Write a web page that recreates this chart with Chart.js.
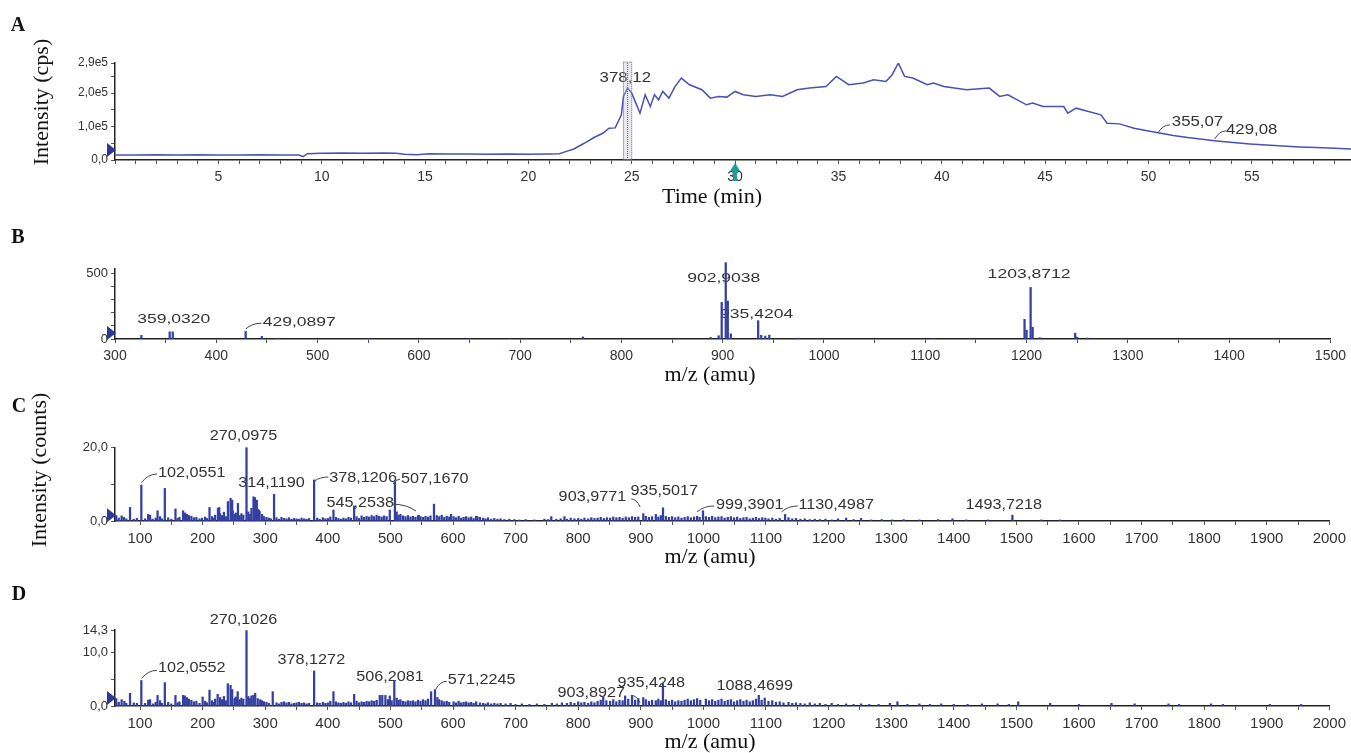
<!DOCTYPE html>
<html>
<head>
<meta charset="utf-8">
<script src="https://cdn.jsdelivr.net/npm/chart.js@4.4.1/dist/chart.umd.min.js"></script>
<style>
  body { margin: 0; background: #fff; width: 1351px; height: 753px; overflow: hidden; position: relative; }
  canvas { position: absolute; left: 0; }
</style>
</head>
<body>
<canvas id="chartA" width="1351" height="215" style="top:0px;width:1351px;height:215px"></canvas>
<canvas id="chartB" width="1351" height="170" style="top:215px;width:1351px;height:170px"></canvas>
<canvas id="chartC" width="1351" height="205" style="top:370px;width:1351px;height:205px"></canvas>
<canvas id="chartD" width="1351" height="178" style="top:575px;width:1351px;height:178px"></canvas>
<script>
// ---- Panel A: total ion chromatogram (time in min, intensity in cps)
var ticTime = [0, 1, 2, 3, 4, 5, 6, 7, 8, 8.9, 9.1, 9.3, 10, 11, 12, 13, 13.6, 14, 14.6, 15.2, 16, 17, 18, 19, 20, 21, 21.5,
  21.8, 22.2, 22.7, 23.2, 23.6, 23.9, 24.2, 24.5, 24.6, 24.8, 25.0, 25.2, 25.4, 25.65, 25.9, 26.1, 26.3, 26.5, 26.8, 27.1,
  27.4, 27.8, 28.4, 28.8, 29.2, 29.6, 30.0, 30.4, 31.0, 31.7, 32.3, 33.0, 33.6, 34.4, 34.9, 35.5, 36.2, 36.7, 37.3, 37.6,
  37.9, 38.2, 38.6, 39.3, 39.6, 40.1, 41.2, 42.3, 42.8, 43.2, 44.1, 44.4, 44.9, 45.9, 46.1, 46.5, 47.7, 48.0, 48.6, 49.3,
  50.0, 50.6, 51.2, 51.9, 52.6, 53.3, 54.1, 54.9, 55.7, 56.5, 57.3, 58.1, 59.0, 59.8];
var ticCps = [15000, 15000, 16000, 15000, 16000, 15000, 15000, 16000, 15000, 15000, 10000, 19000, 20000, 21000, 20000, 21000, 20000, 17000, 16000, 19000,
  18000, 18000, 17000, 18000, 17000, 18000, 19000,
  25000, 33000, 50000, 68000, 80000, 95000, 96000, 135000, 190000, 215000, 200000, 170000, 140000, 195000, 160000, 195000, 180000, 205000, 185000, 220000,
  245000, 225000, 210000, 185000, 190000, 188000, 205000, 195000, 190000, 195000, 190000, 210000, 215000, 220000, 250000, 225000, 230000, 240000, 235000, 255000,
  290000, 250000, 245000, 225000, 230000, 220000, 210000, 215000, 190000, 195000, 165000, 170000, 160000, 160000, 140000, 155000, 135000, 110000, 108000, 95000,
  87000, 80000, 73000, 67000, 62000, 57000, 52000, 48000, 45000, 42000, 39000, 37000, 35000, 33000];
var aXLabelled = [5, 10, 15, 20, 25, 30, 35, 40, 45, 50, 55];
var aYTicks = [0, 50000, 100000, 150000, 200000, 250000, 290000];
var aYLabels = { 0: '0,0', 100000: '1,0e5', 200000: '2,0e5', 290000: '2,9e5' };

// ---- Panel B: MS scan at 24.8 min (m/z, counts)
var specBMz  = [326, 354, 357, 429, 445, 461, 550, 650, 690, 762, 888, 896, 899, 903, 905, 908, 935, 938, 942, 946, 975, 1108, 1198, 1200, 1204, 1206, 1213, 1248, 1250, 1260];
var specBInt = [28, 55, 55, 58, 20, 6, 5, 5, 4, 16, 12, 25, 280, 584, 290, 40, 140, 28, 22, 30, 6, 5, 150, 68, 394, 90, 10, 45, 14, 8];
var bXLabelled = [300, 400, 500, 600, 700, 800, 900, 1000, 1100, 1200, 1300, 1400, 1500];
var bYTicks = [0, 100, 200, 300, 400, 500];
var bYLabels = { 0: '0', 500: '500' };

// ---- Panel C: MS/MS spectrum (m/z, counts)
var specCPeakMz  = [70.6, 84, 102.06, 113, 128, 139.6, 156.6, 168.8, 211, 224.5, 226.5, 240.4, 244.6, 247.2, 256.4, 270.1, 281.3, 283.5, 286.5, 290,
  314.1, 378.1, 409, 442, 499, 507.2, 545.3, 569.6, 597, 639, 757, 778, 903.98, 924, 935.5, 999.4, 1130.5, 1493.7];
var specCPeakInt = [1.4, 3.7, 9.8, 1.8, 2.8, 8.9, 3.3, 2.8, 3.7, 3.5, 3.7, 5.3, 6.2, 5.7, 4.8, 20.0, 6.6, 6.4, 5.7, 3.0,
  7.3, 11.2, 3.0, 4.1, 3.0, 10.7, 1.6, 4.6, 1.8, 1.2, 1.2, 1.2, 2.0, 1.8, 3.6, 2.8, 1.8, 1.6];
var specCNoiseMz = [62, 66, 74, 78, 90, 95, 108, 116, 120, 125, 132, 135, 145, 150, 160, 163, 172, 175, 178, 182, 186, 190, 195, 199, 204, 207, 215, 218,
  220, 228, 231, 234, 237, 248, 251, 253, 259, 262, 265, 273, 276, 278, 285, 288, 291, 295, 298, 302, 306, 309, 318, 322, 326, 330, 334, 338, 342,
  346, 350, 354, 358, 362, 366, 370, 383, 387, 392, 396, 400, 404, 413, 417, 421, 425, 429, 433, 437, 446, 450, 454, 458, 462, 466, 470, 474, 478,
  482, 486, 490, 494, 510, 513, 516, 520, 524, 528, 532, 536, 540, 544, 548, 552, 556, 560, 564, 574, 578, 582, 586, 590, 594, 601, 605, 609, 613,
  617, 621, 625, 629, 633, 637, 643, 648, 652, 656, 661, 666, 671, 676, 682, 690, 698, 706, 716, 730, 746, 752, 765, 772, 782, 788, 794, 800, 805,
  810, 816, 821, 826, 831, 836, 841, 846, 851, 856, 861, 866, 871, 876, 881, 886, 891, 896, 908, 913, 918, 928, 932, 940, 945, 950, 955, 960, 965,
  970, 975, 980, 985, 990, 994, 1004, 1009, 1014, 1019, 1024, 1029, 1034, 1039, 1044, 1049, 1054, 1059, 1064, 1069, 1074, 1079, 1084, 1089, 1094,
  1099, 1104, 1110, 1116, 1122, 1136, 1142, 1148, 1155, 1162, 1170, 1178, 1186, 1195, 1205, 1215, 1228, 1240, 1252, 1268, 1285, 1302, 1320, 1345,
  1375, 1398, 1420, 1455, 1540, 1570];
var specCNoiseInt = [1.5, 0.8, 1.0, 0.6, 0.5, 0.7, 0.6, 1.6, 0.5, 0.8, 1.2, 0.6, 0.9, 0.5, 0.7, 1.0, 2.2, 1.8, 1.5, 1.3, 0.9, 1.0, 0.6, 0.8, 1.1, 0.7, 1.2, 0.8,
  1.6, 2.0, 1.5, 2.4, 1.2, 2.8, 1.8, 2.2, 1.5, 2.0, 1.6, 2.5, 1.8, 3.5, 4.5, 3.2, 2.6, 1.8, 1.2, 1.0, 0.8, 0.6, 0.9, 0.5, 1.0, 0.7, 0.6, 0.9, 0.5,
  0.7, 0.6, 0.5, 0.8, 0.6, 0.5, 0.7, 0.8, 0.5, 0.9, 0.6, 0.7, 1.1, 1.0, 0.7, 0.5, 0.8, 0.6, 1.0, 0.8, 1.2, 0.7, 1.4, 1.0, 1.3, 1.1, 1.5, 1.2, 1.6,
  1.3, 1.1, 1.4, 1.2, 2.5, 1.6, 1.8, 1.4, 1.2, 1.5, 1.1, 1.3, 1.0, 1.4, 1.2, 1.0, 1.3, 1.1, 1.4, 1.5, 1.2, 1.6, 1.0, 1.3, 1.1, 1.2, 0.9, 1.3, 0.8,
  1.0, 1.2, 0.9, 1.1, 0.7, 1.3, 1.0, 0.8, 0.6, 0.9, 0.5, 0.7, 0.5, 0.6, 0.4, 0.5, 0.4, 0.3, 0.4, 0.3, 0.5, 0.4, 0.5, 0.6, 0.5, 0.8, 0.6, 0.7, 0.5,
  0.8, 0.6, 0.9, 0.7, 0.8, 1.0, 0.7, 0.9, 0.8, 1.1, 0.9, 1.0, 0.8, 1.1, 0.9, 1.2, 1.0, 1.1, 1.3, 1.0, 1.2, 1.1, 1.5, 1.3, 1.0, 1.2, 0.9, 1.1, 0.8,
  1.0, 1.2, 0.9, 1.1, 1.3, 1.0, 1.2, 1.0, 1.3, 0.9, 1.1, 1.2, 0.8, 1.0, 1.2, 0.9, 1.1, 0.7, 0.9, 1.0, 0.6, 0.8, 1.0, 0.7, 0.9,
  0.8, 0.6, 0.8, 0.5, 0.7, 0.9, 0.6, 0.7, 0.5, 0.6, 0.4, 0.5, 0.4, 0.5, 0.3, 0.6, 0.8, 0.4, 0.7, 0.3, 0.4, 0.3, 0.4, 0.3,
  0.4, 0.6, 0.3, 0.3, 0.3, 0.3];

// ---- Panel D: MS/MS spectrum (m/z, counts)
var specDPeakMz  = [70.6, 84, 102.06, 113, 128, 139.6, 156.6, 168.8, 171.5, 200, 211, 224, 240.2, 244.6, 247.2, 256, 270.1, 281, 284, 288,
  312, 378.1, 409, 442, 483, 487, 492, 499, 506.2, 565, 571.2, 840, 875, 886, 903.9, 935.4, 1088.5];
var specDPeakInt = [1.2, 2.4, 4.8, 1.1, 2.0, 4.4, 2.0, 2.0, 1.9, 1.7, 3.0, 2.2, 4.2, 3.9, 3.1, 2.7, 14.2, 2.0, 2.4, 1.4,
  2.7, 6.6, 2.7, 2.2, 2.0, 2.0, 2.0, 1.9, 4.8, 2.7, 3.1, 1.7, 1.9, 2.0, 1.6, 4.2, 2.0];
var specDNoiseMz = [62, 66, 75, 78, 90, 95, 108, 116, 121, 125, 132, 135, 145, 150, 160, 163, 175, 178, 182, 186, 190, 195, 204, 207, 215, 218, 220,
  228, 231, 234, 237, 251, 253, 259, 262, 265, 273, 276, 278, 292, 295, 298, 302, 306, 318, 322, 326, 330, 334, 338, 342, 346, 350, 354, 358, 362,
  366, 370, 383, 387, 392, 396, 400, 404, 413, 417, 421, 425, 429, 433, 437, 446, 450, 454, 458, 462, 466, 470, 474, 478, 496, 502, 510, 513, 516,
  520, 524, 528, 532, 536, 540, 544, 548, 552, 556, 560, 575, 578, 582, 586, 590, 594, 601, 605, 609, 613, 617, 621, 625, 629, 633, 637, 643, 648,
  652, 656, 661, 666, 671, 676, 684, 692, 700, 710, 722, 734, 746, 758, 766, 774, 782, 788, 794, 800, 805, 810, 816, 821, 826, 831, 836, 845, 851,
  856, 861, 866, 871, 880, 891, 896, 908, 913, 918, 924, 928, 932, 940, 945, 950, 955, 960, 965, 970, 975, 980, 985, 990, 995, 1004, 1009, 1014,
  1019, 1024, 1029, 1034, 1039, 1044, 1049, 1054, 1059, 1064, 1069, 1074, 1079, 1084, 1093, 1098, 1104, 1110, 1116, 1122, 1128, 1136, 1142, 1148,
  1155, 1162, 1170, 1178, 1186, 1195, 1205, 1215, 1228, 1240, 1252, 1265, 1280, 1298, 1310, 1326, 1345, 1362, 1380, 1400, 1422, 1445, 1470, 1488,
  1503, 1554, 1600, 1652, 1689, 1743, 1760, 1811, 1830, 1905, 1955];
var specDNoiseInt = [1.4, 0.7, 0.9, 0.5, 0.6, 0.5, 0.5, 1.2, 0.4, 0.7, 1.0, 0.5, 0.7, 0.4, 0.6, 0.8, 1.6, 1.3, 1.1, 0.8, 0.9, 0.5, 0.9, 0.6, 1.0, 0.7, 1.3,
  1.6, 1.2, 1.8, 1.0, 1.4, 1.7, 1.2, 1.5, 1.3, 1.8, 1.4, 1.9, 1.2, 1.0, 0.8, 0.7, 0.5, 0.6, 0.4, 0.7, 0.8, 0.6, 0.7, 0.4, 0.5, 0.6, 0.7, 0.5, 0.6,
  0.4, 0.5, 0.6, 0.5, 0.7, 0.5, 0.6, 0.9, 0.8, 0.6, 0.5, 0.7, 0.5, 0.8, 0.6, 0.9, 0.6, 0.8, 0.7, 0.9, 0.8, 1.0, 0.9, 1.1, 1.2, 1.0, 1.5, 1.1, 1.2,
  0.9, 0.8, 1.0, 0.9, 1.0, 0.8, 1.1, 0.9, 1.2, 1.0, 1.3, 1.6, 1.2, 1.0, 0.8, 0.9, 0.7, 0.8, 0.6, 0.9, 0.6, 0.7, 0.8, 0.6, 0.7, 0.5, 0.8, 0.6, 0.5,
  0.4, 0.6, 0.4, 0.5, 0.4, 0.5, 0.4, 0.5, 0.3, 0.4, 0.3, 0.4, 0.3, 0.5, 0.4, 0.6, 0.5, 0.7, 0.5, 0.8, 0.6, 0.7, 0.5, 0.8, 0.6, 0.9, 1.1, 1.0, 0.9,
  1.2, 0.8, 1.1, 1.0, 1.3, 1.1, 1.4, 1.2, 0.9, 1.1, 1.0, 1.3, 1.0, 1.2, 0.9, 1.1, 0.8, 1.0, 0.9, 1.1, 1.3, 1.0, 1.2, 1.4, 1.1, 1.3, 1.0, 1.2,
  0.9, 1.1, 1.3, 0.9, 1.1, 1.2, 0.8, 1.0, 1.2, 0.9, 1.1, 0.8, 1.0, 1.3, 1.1, 1.5, 0.9, 1.0, 0.7, 0.8, 0.6, 0.7, 0.5, 0.6,
  0.5, 0.4, 0.6, 0.4, 0.5, 0.3, 0.5, 0.3, 0.4, 0.3, 0.4, 0.3, 0.3, 0.5, 0.8, 0.3, 0.4, 0.3, 0.4, 0.3, 0.3, 0.4, 0.4, 0.3,
  0.8, 0.5, 0.3, 0.5, 0.4, 0.4, 0.3, 0.4, 0.3, 0.3, 0.3];
var cdXLabelled = [100, 200, 300, 400, 500, 600, 700, 800, 900, 1000, 1100, 1200, 1300, 1400, 1500, 1600, 1700, 1800, 1900, 2000];
var cYTicks = [0, 10, 20];
var cYLabels = { 0: '0,0', 20: '20,0' };
var dYTicks = [0, 5, 10, 14.3];
var dYLabels = { 0: '0,0', 10: '10,0', 14.3: '14,3' };

var SANS = "'Liberation Sans', Arial, sans-serif";
var SERIF = "'Liberation Serif', 'Times New Roman', serif";
var INK = '#3340a2';

function pairs(xs, ys) {
    return xs.map(function (x, i) { return { x: x, y: ys[i] }; });
}

// x ticks: labelled majors plus a minor tick half way between them
function withMinors(majors, step) {
    var out = [];
    majors.forEach(function (v, i) {
        out.push(v);
        if (i < majors.length - 1) out.push(v + step / 2);
    });
    return out;
}

// text, leaders and markers drawn on top of the library's scales
var decor = {
    id: 'decor',
    beforeDatasetsDraw: function (chart, args, o) {
        var ctx = chart.ctx, xs = chart.scales.x, ys = chart.scales.y;
        ctx.save();
        ctx.fillStyle = '#333';
        ctx.textBaseline = 'middle';
        (o.labels || []).forEach(function (l) {
            ctx.save();
            ctx.font = (l.size || 15) + 'px ' + SANS;
            ctx.textAlign = l.align || 'center';
            ctx.translate(xs.getPixelForValue(l.x), ys.getPixelForValue(l.y));
            ctx.scale(o.sx || 1, 1);
            ctx.fillText(l.text, 0, 0);
            ctx.restore();
        });
        ctx.strokeStyle = '#444';
        ctx.lineWidth = 1;
        (o.leaders || []).forEach(function (l) {
            var x1 = xs.getPixelForValue(l[0]), y1 = ys.getPixelForValue(l[1]);
            var x2 = xs.getPixelForValue(l[2]), y2 = ys.getPixelForValue(l[3]);
            ctx.beginPath();
            ctx.moveTo(x1, y1);
            ctx.quadraticCurveTo(x1 + (x2 - x1) * 0.4, y2, x2, y2);
            ctx.stroke();
        });
        // titles and panel letters, page coordinates
        ctx.fillStyle = '#111';
        (o.titles || []).forEach(function (t) {
            ctx.save();
            ctx.font = t.font;
            ctx.textAlign = 'center';
            ctx.translate(t.px, t.py - o.top);
            if (t.rot) ctx.rotate(-Math.PI / 2);
            ctx.fillText(t.text, 0, 0);
            ctx.restore();
        });
        ctx.restore();
    },
    afterDatasetsDraw: function (chart, args, o) {
        var ctx = chart.ctx, xs = chart.scales.x, ys = chart.scales.y, ca = chart.chartArea;
        ctx.save();
        if (o.box) {
            var bx0 = xs.getPixelForValue(o.box[0]), bx1 = xs.getPixelForValue(o.box[1]);
            ctx.fillStyle = 'rgba(190,190,200,0.35)';
            ctx.fillRect(bx0, ca.top - 1, bx1 - bx0, ca.bottom - ca.top + 1);
            ctx.setLineDash([1, 1]);
            ctx.strokeStyle = '#666';
            ctx.strokeRect(bx0, ca.top - 1, bx1 - bx0, ca.bottom - ca.top + 1);
            ctx.beginPath();
            ctx.moveTo((bx0 + bx1) / 2, ca.top);
            ctx.lineTo((bx0 + bx1) / 2, ca.bottom);
            ctx.stroke();
            ctx.setLineDash([]);
        }
        if (o.teal !== undefined) {
            var tx = xs.getPixelForValue(o.teal), ty = ca.bottom + 3;
            ctx.fillStyle = '#1e9c9c';
            ctx.beginPath();
            ctx.moveTo(tx, ty);
            ctx.lineTo(tx + 5, ty + 8);
            ctx.lineTo(tx + 2, ty + 8);
            ctx.lineTo(tx + 2, ty + 18);
            ctx.lineTo(tx - 2, ty + 18);
            ctx.lineTo(tx - 2, ty + 8);
            ctx.lineTo(tx - 5, ty + 8);
            ctx.closePath();
            ctx.fill();
        }
        if (o.marker !== undefined) {
            var my = ys.getPixelForValue(o.marker);
            ctx.fillStyle = '#2a3896';
            ctx.beginPath();
            ctx.moveTo(ca.left + 1, my);
            ctx.lineTo(ca.left - 8, my - 7);
            ctx.lineTo(ca.left - 8, my + 7);
            ctx.closePath();
            ctx.fill();
        }
        ctx.restore();
    }
};

function axisX(min, max, ticks, labelled, axisHeight, fontSize) {
    return {
        type: 'linear', min: min, max: max, offset: false,
        afterBuildTicks: function (s) { s.ticks = ticks.map(function (v) { return { value: v }; }); },
        afterFit: function (s) { s.height = axisHeight; },
        ticks: {
            autoSkip: false, maxRotation: 0, minRotation: 0, padding: 5, color: '#333',
            font: { family: SANS, size: fontSize },
            callback: function (v) { return labelled.indexOf(v) >= 0 ? String(v) : ''; }
        },
        grid: { offset: false, drawOnChartArea: false, drawTicks: true, tickLength: 4, color: '#555' },
        border: { display: true, color: '#222', width: 1.5 }
    };
}

function axisY(min, max, ticks, labels, fontSize) {
    return {
        min: min, max: max,
        afterBuildTicks: function (s) { s.ticks = ticks.map(function (v) { return { value: v }; }); },
        afterFit: function (s) { s.width = 115; },
        ticks: {
            autoSkip: false, padding: 3, color: '#333',
            font: { family: SANS, size: fontSize },
            callback: function (v) { return labels[v] !== undefined ? labels[v] : ''; }
        },
        grid: { drawOnChartArea: false, drawTicks: true, tickLength: 4, color: '#555' },
        border: { display: true, color: '#222', width: 1.5 }
    };
}

function baseOptions(padTop, padRight, decorOpts, x, y) {
    return {
        responsive: false, animation: false, devicePixelRatio: 1,
        layout: { padding: { top: padTop, right: padRight, left: 0, bottom: 0 } },
        plugins: { legend: { display: false }, tooltip: { enabled: false }, decor: decorOpts },
        scales: { x: x, y: y }
    };
}

// ---- A
var aMinorTicks = [];
for (var t = 0; t <= 59; t++) aMinorTicks.push(t);
new Chart(document.getElementById('chartA'), {
    type: 'line',
    data: { datasets: [{ data: pairs(ticTime, ticCps), borderColor: '#4a50b4', borderWidth: 1.5, pointRadius: 0, tension: 0 }] },
    options: baseOptions(63, 0, {
        top: 0,
        labels: [
            { text: '378,12', x: 24.69, y: 245000 },
            { text: '355,07', x: 51.13, y: 113000, align: 'left' },
            { text: '429,08', x: 53.75, y: 90000, align: 'left' }
        ],
        sx: 1.12,
        leaders: [[50.46, 81000, 51.04, 105000], [53.21, 63000, 53.75, 87000]],
        box: [24.6, 25.0],
        teal: 30,
        marker: 30000,
        titles: [
            { text: 'A', px: 18, py: 26, font: 'bold 20px ' + SERIF },
            { text: 'Intensity (cps)', px: 42, py: 102, font: '22px ' + SERIF, rot: true },
            { text: 'Time (min)', px: 712, py: 197, font: '22px ' + SERIF }
        ]
    }, axisX(0, 59.8, aMinorTicks, aXLabelled, 55, 14), axisY(0, 290000, aYTicks, aYLabels, 12)),
    plugins: [decor]
});

// ---- B, C, D: bar spectra on a linear m/z axis
function spectrum(id, points, thickness, padTop, axisHeight, decorOpts, x, y) {
    return new Chart(document.getElementById(id), {
        type: 'bar',
        data: { datasets: [{ data: points, backgroundColor: INK, barThickness: thickness, clip: false }] },
        options: baseOptions(padTop, 18, decorOpts, x, y),
        plugins: [decor]
    });
}

spectrum('chartB', pairs(specBMz, specBInt), 1.6, 54, 46, {
    top: 215,
    sx: 1.35,
    labels: [
        { text: '359,0320', x: 358, y: 151, size: 13 },
        { text: '429,0897', x: 445.8, y: 129, size: 13, align: 'left' },
        { text: '902,9038', x: 901, y: 462, size: 13 },
        { text: '935,4204', x: 933.5, y: 189, size: 13 },
        { text: '1203,8712', x: 1202.5, y: 492, size: 13 }
    ],
    leaders: [[429, 76, 444.8, 121]],
    marker: 45,
    titles: [
        { text: 'B', px: 18, py: 238, font: 'bold 20px ' + SERIF },
        { text: 'm/z (amu)', px: 710, py: 375, font: '22px ' + SERIF }
    ]
}, axisX(300, 1500, withMinors(bXLabelled, 100), bXLabelled, 46, 14), axisY(0, 535, bYTicks, bYLabels, 13));

spectrum('chartC', pairs(specCPeakMz, specCPeakInt).concat(pairs(specCNoiseMz, specCNoiseInt)), 1.6, 77.7, 54, {
    top: 370,
    sx: 1.08,
    labels: [
        { text: '270,0975', x: 265.4, y: 23.2 },
        { text: '102,0551', x: 128.5, y: 13.1, align: 'left' },
        { text: '314,1190', x: 310, y: 10.35 },
        { text: '378,1206', x: 402.4, y: 11.7, align: 'left' },
        { text: '507,1670', x: 517, y: 11.4, align: 'left' },
        { text: '545,2538', x: 451.7, y: 4.9 },
        { text: '903,9771', x: 822.7, y: 6.5 },
        { text: '935,5017', x: 937.4, y: 8.2 },
        { text: '999,3901', x: 1020, y: 4.4, align: 'left' },
        { text: '1130,4987', x: 1152, y: 4.4, align: 'left' },
        { text: '1493,7218', x: 1480, y: 4.4 }
    ],
    leaders: [[102.5, 10.5, 127, 12.8], [378.5, 10.9, 400.8, 12], [504, 10.1, 515.4, 11.4], [541, 2.7, 502.7, 4.6],
        [899, 3.8, 884.8, 6.0], [990, 2.5, 1017, 4.1], [1125, 2.5, 1150.8, 4.1]],
    marker: 1.6,
    titles: [
        { text: 'C', px: 19, py: 407, font: 'bold 20px ' + SERIF },
        { text: 'Intensity (counts)', px: 40, py: 470, font: '22px ' + SERIF, rot: true },
        { text: 'm/z (amu)', px: 710, py: 557, font: '22px ' + SERIF }
    ]
}, axisX(60, 2000, withMinors(cdXLabelled, 100), cdXLabelled, 54, 15), axisY(0, 20, cYTicks, cYLabels, 13));

spectrum('chartD', pairs(specDPeakMz, specDPeakInt).concat(pairs(specDNoiseMz, specDNoiseInt)), 1.6, 55, 47, {
    top: 575,
    sx: 1.08,
    labels: [
        { text: '270,1026', x: 265.4, y: 16.2 },
        { text: '102,0552', x: 128.5, y: 7.1, align: 'left' },
        { text: '378,1272', x: 373.7, y: 8.75 },
        { text: '506,2081', x: 499.5, y: 5.4 },
        { text: '571,2245', x: 591.8, y: 4.85, align: 'left' },
        { text: '903,8927', x: 821, y: 2.4 },
        { text: '935,4248', x: 916.7, y: 4.3 },
        { text: '1088,4699', x: 1082, y: 3.7 }
    ],
    leaders: [[103, 5.2, 127, 6.7], [572.7, 3.2, 590, 4.65], [899, 0.6, 884.8, 2.0]],
    marker: 1.5,
    titles: [
        { text: 'D', px: 19, py: 595, font: 'bold 20px ' + SERIF },
        { text: 'm/z (amu)', px: 710, py: 742, font: '22px ' + SERIF }
    ]
}, axisX(60, 2000, withMinors(cdXLabelled, 100), cdXLabelled, 47, 15), axisY(0, 14.3, dYTicks, dYLabels, 13));
</script>
</body>
</html>
